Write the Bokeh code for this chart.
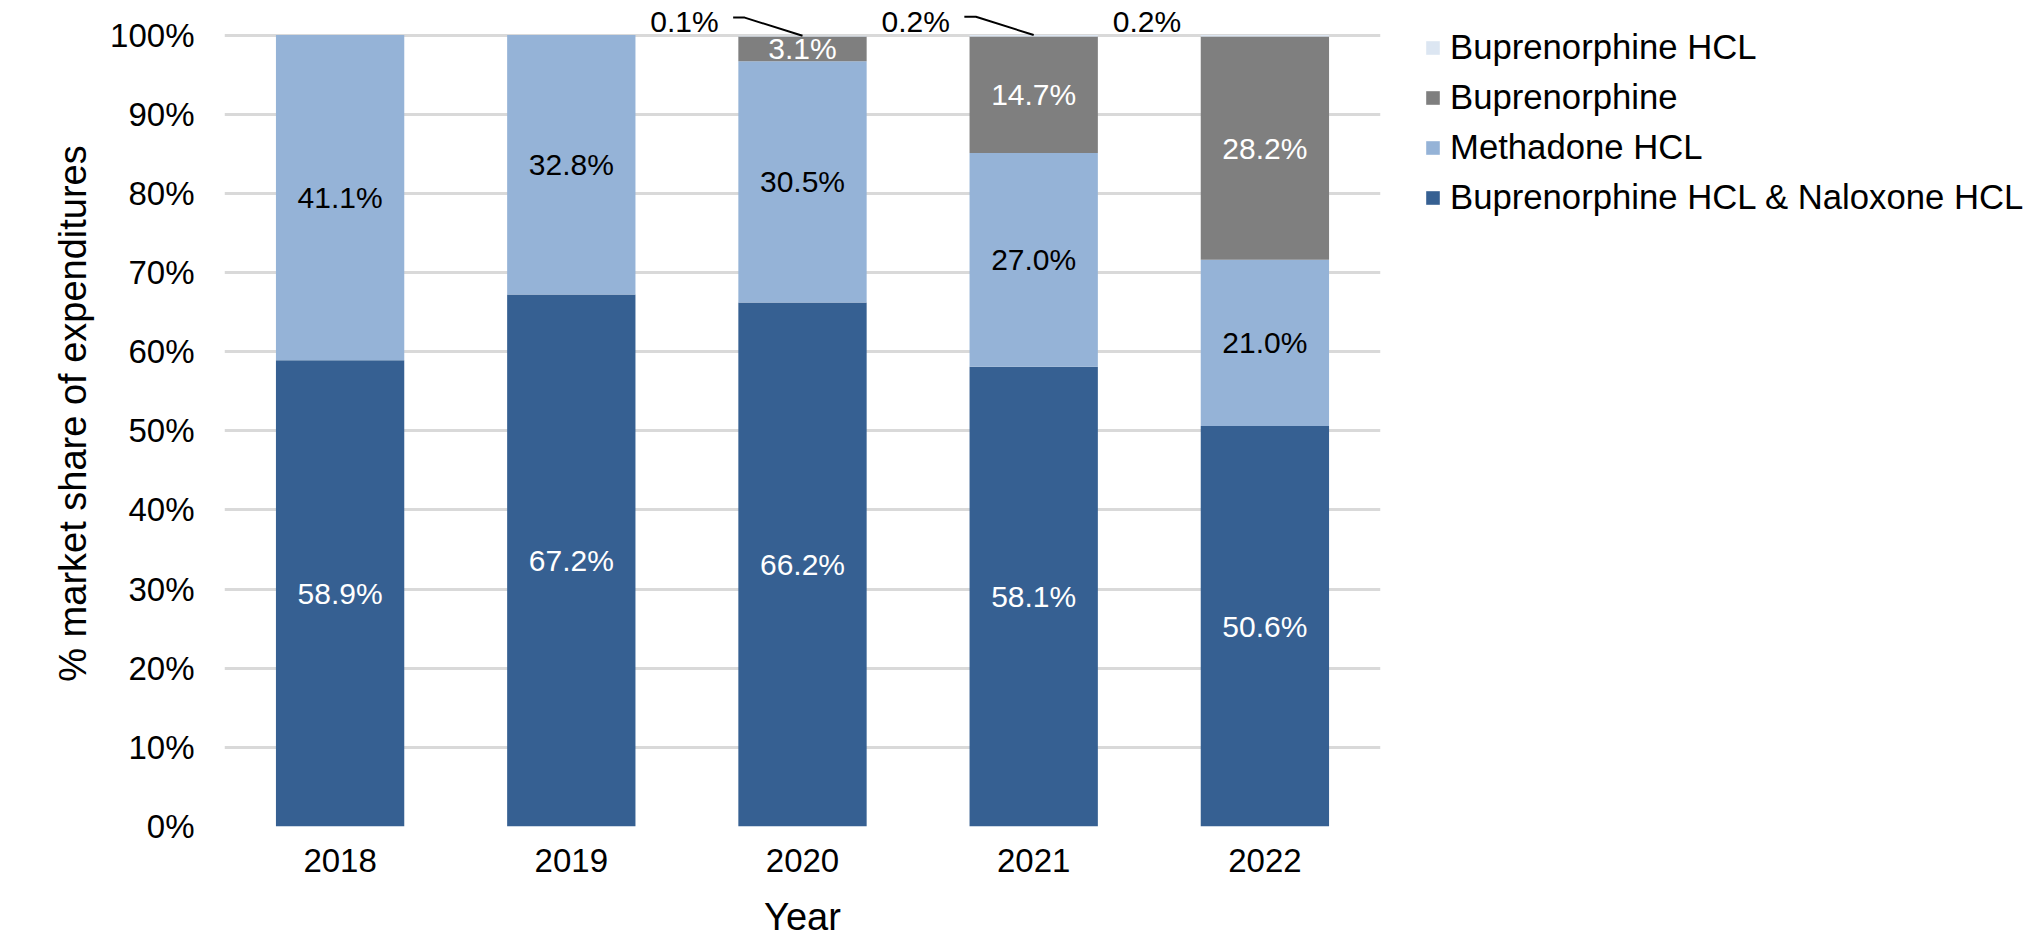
from bokeh.plotting import figure
from bokeh.layouts import row
from bokeh.models import (ColumnDataSource, Range1d, FixedTicker, PrintfTickFormatter,
                          Legend, LegendItem)
from bokeh.embed import file_html
from bokeh.resources import INLINE
from bokeh.core.properties import value

# ---------------- data ----------------
years = ["2018", "2019", "2020", "2021", "2022"]
bup_naloxone = [58.9, 67.2, 66.2, 58.1, 50.6]
methadone = [41.1, 32.8, 30.5, 27.0, 21.0]
buprenorphine = [0.0, 0.0, 3.1, 14.7, 28.2]
bup_hcl = [0.0, 0.0, 0.1, 0.2, 0.2]
series_names = ["Buprenorphine HCL & Naloxone HCL", "Methadone HCL",
                "Buprenorphine", "Buprenorphine HCL"]
y_ticks = [0, 10, 20, 30, 40, 50, 60, 70, 80, 90, 100]
leader_shown = [False, False, True, True, False]

# ---------------- styles ----------------
colors = ["#366092", "#95B3D7", "#7F7F7F", "#DCE6F2"]
label_colors = ["#FFFFFF", "#000000", "#FFFFFF", "#000000"]
FONT = "Liberation Sans"
H = 943

series = [bup_naloxone, methadone, buprenorphine, bup_hcl]
keys = ["s0", "s1", "s2", "s3"]
xs = [i + 0.5 for i in range(len(years))]

src = ColumnDataSource(dict(x=xs, s0=series[0], s1=series[1], s2=series[2], s3=series[3]))

p = figure(width=1398, height=H, output_backend="svg", toolbar_location=None,
           x_range=Range1d(0, len(years)), y_range=Range1d(0, 104.36),
           min_border_left=224, min_border_right=18, min_border_top=0, min_border_bottom=117)
p.outline_line_color = None
p.background_fill_color = "white"
p.border_fill_color = "white"

renderers = p.vbar_stack(keys, x="x", width=0.555, source=src, fill_color=colors,
                         line_color=None, line_width=0)

# inside labels and outside labels
in_x, in_y, in_t, in_c = [], [], [], []
out_x, out_y, out_t = [], [], []
lead_xs, lead_ys = [], []
for j in range(len(years)):
    bottom = 0.0
    for i, s in enumerate(series):
        v = s[j]
        if v >= 1:
            in_x.append(xs[j]); in_y.append(bottom + v / 2)
            in_t.append(f"{v:.1f}%"); in_c.append(label_colors[i])
        elif v > 0:
            top = bottom + v
            out_x.append(xs[j]); out_y.append(top); out_t.append(f"{v:.1f}%")
            if leader_shown[j]:
                lead_xs.append([xs[j] - 0.30, xs[j] - 0.25, xs[j]])
                lead_ys.append([top + 2.3, top + 2.3, top])
        bottom += v

p.text(x=in_x, y=in_y, text=in_t, text_color=in_c, text_align="center",
       text_baseline="middle", text_font=value(FONT), text_font_size="30px")
p.text(x=out_x, y=out_y, text=out_t, text_color="#000000", text_align="center",
       text_baseline="middle", text_font=value(FONT), text_font_size="30px",
       x_offset=-118, y_offset=-14)
if lead_xs:
    p.multi_line(xs=lead_xs, ys=lead_ys, line_color="#000000", line_width=2)

# axes
p.xaxis.ticker = FixedTicker(ticks=xs)
p.xaxis.major_label_overrides = {x: y for x, y in zip(xs, years)}
p.yaxis.ticker = FixedTicker(ticks=y_ticks)
p.yaxis.formatter = PrintfTickFormatter(format="%d%%")
for ax in (p.xaxis[0], p.yaxis[0]):
    ax.axis_line_color = None
    ax.major_tick_line_color = None
    ax.minor_tick_line_color = None
    ax.major_tick_out = 0
    ax.major_tick_in = 0
    ax.major_label_text_font = FONT
    ax.major_label_text_font_size = "33px"
    ax.major_label_text_color = "#000000"
    ax.axis_label_text_font = FONT
    ax.axis_label_text_font_size = "38px"
    ax.axis_label_text_font_style = "normal"
    ax.axis_label_text_color = "#000000"
p.xaxis.axis_label = "Year"
p.yaxis.axis_label = "% market share of expenditures"
p.xaxis.major_label_standoff = 22
p.xaxis.axis_label_standoff = 21
p.yaxis.major_label_standoff = 30
p.yaxis.axis_label_standoff = 13

p.xgrid.grid_line_color = None
p.ygrid.grid_line_color = "#D9D9D9"
p.ygrid.grid_line_width = 3

# ---------------- legend panel ----------------
lf = figure(width=642, height=H, output_backend="svg", toolbar_location=None,
            x_range=Range1d(-5, -4), y_range=Range1d(200, 201),
            x_axis_location=None, y_axis_location=None,
            min_border_left=0, min_border_right=0, min_border_top=0, min_border_bottom=0)
lf.outline_line_color = None
lf.background_fill_color = "white"
lf.border_fill_color = "white"
lf.xgrid.grid_line_color = None
lf.ygrid.grid_line_color = None
legend_renderers = lf.vbar_stack(keys, x="x", width=0.555, source=src, fill_color=colors,
                                 line_color=None, line_width=0)
items = [LegendItem(label=series_names[i], renderers=[legend_renderers[i]])
         for i in reversed(range(len(series_names)))]
legend = Legend(items=items, location="top_left", orientation="vertical",
                padding=0, margin=26, spacing=8, label_height=42,
                glyph_height=17, glyph_width=17, label_standoff=9,
                border_line_color=None, background_fill_alpha=0,
                label_text_font=FONT, label_text_font_size="34.7px",
                label_text_color="#000000")
lf.add_layout(legend)

layout = row(p, lf)
open("out.html", "w").write(file_html(layout, INLINE))
